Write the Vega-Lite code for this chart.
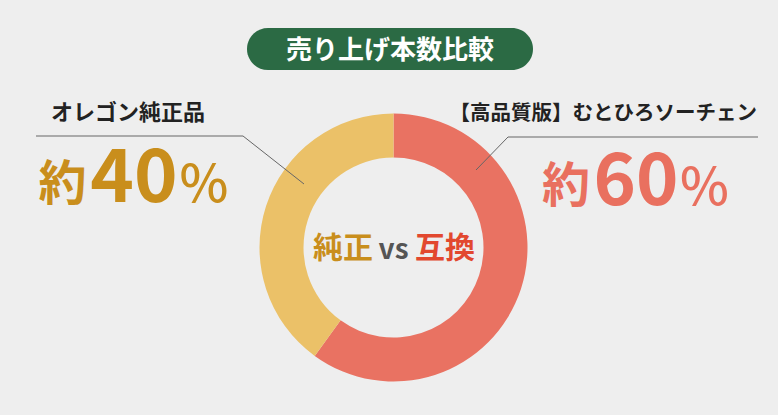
{
  "$schema": "https://vega.github.io/schema/vega-lite/v6.json",
  "width": 778,
  "height": 415,
  "padding": 0,
  "autosize": {"type": "fit", "contains": "padding"},
  "background": "#eeeeee",
  "config": {"view": {"stroke": null}, "text": {"font": "Noto Sans CJK JP"}},
  "datasets": {
    "shares": [
      {"category": "互換", "label": "【高品質版】むとひろソーチェン", "share": 60},
      {"category": "純正", "label": "オレゴン純正品", "share": 40}
    ]
  },
  "data": {"name": "shares"},
  "layer": [
    {
      "mark": {"type": "rect", "color": "#2b6a44", "cornerRadius": 21},
      "encoding": {
        "x": {"datum": 247, "type": "quantitative", "scale": {"domain": [0, 778], "nice": false, "zero": false}, "axis": null},
        "x2": {"datum": 533},
        "y": {"datum": 28, "type": "quantitative", "scale": {"domain": [0, 415], "reverse": true, "nice": false, "zero": false}, "axis": null},
        "y2": {"datum": 70}
      },
      "transform": [{"filter": "datum.share == 60"}]
    },
    {
      "mark": {"type": "text", "text": "売り上げ本数比較", "color": "white", "fontSize": 26, "fontWeight": "bold", "align": "center", "baseline": "alphabetic"},
      "transform": [{"filter": "datum.share == 60"}],
      "encoding": {
        "x": {"datum": 390, "type": "quantitative", "scale": {"domain": [0, 778], "nice": false, "zero": false}, "axis": null},
        "y": {"datum": 58.5, "type": "quantitative", "scale": {"domain": [0, 415], "reverse": true, "nice": false, "zero": false}, "axis": null}
      }
    },
    {
      "mark": {"type": "arc", "innerRadius": 90, "outerRadius": 134},
      "encoding": {
        "theta": {"field": "share", "type": "quantitative", "stack": true},
        "order": {"field": "share", "sort": "descending"},
        "color": {"field": "category", "type": "nominal", "scale": {"domain": ["互換", "純正"], "range": ["#e97262", "#ebc168"]}, "legend": null},
        "x": {"datum": 393.5, "type": "quantitative", "scale": {"domain": [0, 778], "nice": false, "zero": false}, "axis": null},
        "y": {"datum": 247.5, "type": "quantitative", "scale": {"domain": [0, 415], "reverse": true, "nice": false, "zero": false}, "axis": null}
      }
    },
    {
      "mark": {"type": "rule", "color": "#666666", "strokeWidth": 1},
      "transform": [{"filter": "datum.share == 40"}],
      "encoding": {
        "x": {"datum": 36, "type": "quantitative", "scale": {"domain": [0, 778], "nice": false, "zero": false}, "axis": null},
        "x2": {"datum": 243},
        "y": {"datum": 136, "type": "quantitative", "scale": {"domain": [0, 415], "reverse": true, "nice": false, "zero": false}, "axis": null},
        "y2": {"datum": 136}
      }
    },
    {
      "mark": {"type": "rule", "color": "#666666", "strokeWidth": 1},
      "transform": [{"filter": "datum.share == 40"}],
      "encoding": {
        "x": {"datum": 243, "type": "quantitative", "scale": {"domain": [0, 778], "nice": false, "zero": false}, "axis": null},
        "x2": {"datum": 304},
        "y": {"datum": 136, "type": "quantitative", "scale": {"domain": [0, 415], "reverse": true, "nice": false, "zero": false}, "axis": null},
        "y2": {"datum": 184}
      }
    },
    {
      "mark": {"type": "rule", "color": "#666666", "strokeWidth": 1},
      "transform": [{"filter": "datum.share == 60"}],
      "encoding": {
        "x": {"datum": 508, "type": "quantitative", "scale": {"domain": [0, 778], "nice": false, "zero": false}, "axis": null},
        "x2": {"datum": 758},
        "y": {"datum": 137, "type": "quantitative", "scale": {"domain": [0, 415], "reverse": true, "nice": false, "zero": false}, "axis": null},
        "y2": {"datum": 137}
      }
    },
    {
      "mark": {"type": "rule", "color": "#666666", "strokeWidth": 1},
      "transform": [{"filter": "datum.share == 60"}],
      "encoding": {
        "x": {"datum": 508, "type": "quantitative", "scale": {"domain": [0, 778], "nice": false, "zero": false}, "axis": null},
        "x2": {"datum": 476},
        "y": {"datum": 137, "type": "quantitative", "scale": {"domain": [0, 415], "reverse": true, "nice": false, "zero": false}, "axis": null},
        "y2": {"datum": 170}
      }
    },
    {
      "mark": {"type": "text", "color": "#222222", "fontSize": 22, "fontWeight": "bold", "align": "left", "baseline": "alphabetic"},
      "transform": [{"filter": "datum.share == 40"}],
      "encoding": {
        "text": {"field": "label"},
        "x": {"datum": 51, "type": "quantitative", "scale": {"domain": [0, 778], "nice": false, "zero": false}, "axis": null},
        "y": {"datum": 120, "type": "quantitative", "scale": {"domain": [0, 415], "reverse": true, "nice": false, "zero": false}, "axis": null}
      }
    },
    {
      "mark": {"type": "text", "color": "#222222", "fontSize": 20.5, "fontWeight": "bold", "align": "right", "baseline": "alphabetic"},
      "transform": [{"filter": "datum.share == 60"}],
      "encoding": {
        "text": {"field": "label"},
        "x": {"datum": 757, "type": "quantitative", "scale": {"domain": [0, 778], "nice": false, "zero": false}, "axis": null},
        "y": {"datum": 120, "type": "quantitative", "scale": {"domain": [0, 415], "reverse": true, "nice": false, "zero": false}, "axis": null}
      }
    },
    {
      "mark": {"type": "text", "text": "約", "color": "#c98e1c", "fontSize": 48, "fontWeight": "bold", "align": "center", "baseline": "alphabetic"},
      "transform": [{"filter": "datum.share == 40"}],
      "encoding": {
        "x": {"datum": 62.5, "type": "quantitative", "scale": {"domain": [0, 778], "nice": false, "zero": false}, "axis": null},
        "y": {"datum": 200, "type": "quantitative", "scale": {"domain": [0, 415], "reverse": true, "nice": false, "zero": false}, "axis": null}
      }
    },
    {
      "mark": {"type": "text", "color": "#c98e1c", "fontSize": 74, "fontWeight": "bold", "align": "center", "baseline": "alphabetic"},
      "transform": [{"filter": "datum.share == 40"}],
      "encoding": {
        "text": {"field": "share"},
        "x": {"datum": 134, "type": "quantitative", "scale": {"domain": [0, 778], "nice": false, "zero": false}, "axis": null},
        "y": {"datum": 202, "type": "quantitative", "scale": {"domain": [0, 415], "reverse": true, "nice": false, "zero": false}, "axis": null}
      }
    },
    {
      "mark": {"type": "text", "text": "%", "color": "#c98e1c", "fontSize": 52, "fontWeight": 500, "align": "center", "baseline": "alphabetic"},
      "transform": [{"filter": "datum.share == 40"}],
      "encoding": {
        "x": {"datum": 204, "type": "quantitative", "scale": {"domain": [0, 778], "nice": false, "zero": false}, "axis": null},
        "y": {"datum": 202, "type": "quantitative", "scale": {"domain": [0, 415], "reverse": true, "nice": false, "zero": false}, "axis": null}
      }
    },
    {
      "mark": {"type": "text", "text": "約", "color": "#e9705f", "fontSize": 48, "fontWeight": "bold", "align": "center", "baseline": "alphabetic"},
      "transform": [{"filter": "datum.share == 60"}],
      "encoding": {
        "x": {"datum": 566, "type": "quantitative", "scale": {"domain": [0, 778], "nice": false, "zero": false}, "axis": null},
        "y": {"datum": 202, "type": "quantitative", "scale": {"domain": [0, 415], "reverse": true, "nice": false, "zero": false}, "axis": null}
      }
    },
    {
      "mark": {"type": "text", "color": "#e9705f", "fontSize": 72, "fontWeight": "bold", "align": "center", "baseline": "alphabetic"},
      "transform": [{"filter": "datum.share == 60"}],
      "encoding": {
        "text": {"field": "share"},
        "x": {"datum": 636, "type": "quantitative", "scale": {"domain": [0, 778], "nice": false, "zero": false}, "axis": null},
        "y": {"datum": 205, "type": "quantitative", "scale": {"domain": [0, 415], "reverse": true, "nice": false, "zero": false}, "axis": null}
      }
    },
    {
      "mark": {"type": "text", "text": "%", "color": "#e9705f", "fontSize": 52, "fontWeight": 500, "align": "center", "baseline": "alphabetic"},
      "transform": [{"filter": "datum.share == 60"}],
      "encoding": {
        "x": {"datum": 704.5, "type": "quantitative", "scale": {"domain": [0, 778], "nice": false, "zero": false}, "axis": null},
        "y": {"datum": 205, "type": "quantitative", "scale": {"domain": [0, 415], "reverse": true, "nice": false, "zero": false}, "axis": null}
      }
    },
    {
      "mark": {"type": "text", "text": "純正", "color": "#c98e1c", "fontSize": 30, "fontWeight": "bold", "align": "center", "baseline": "alphabetic"},
      "transform": [{"filter": "datum.share == 40"}],
      "encoding": {
        "x": {"datum": 343, "type": "quantitative", "scale": {"domain": [0, 778], "nice": false, "zero": false}, "axis": null},
        "y": {"datum": 258, "type": "quantitative", "scale": {"domain": [0, 415], "reverse": true, "nice": false, "zero": false}, "axis": null}
      }
    },
    {
      "mark": {"type": "text", "text": "vs", "color": "#555555", "fontSize": 28, "fontWeight": "bold", "align": "center", "baseline": "alphabetic"},
      "transform": [{"filter": "datum.share == 40"}],
      "encoding": {
        "x": {"datum": 393.5, "type": "quantitative", "scale": {"domain": [0, 778], "nice": false, "zero": false}, "axis": null},
        "y": {"datum": 259, "type": "quantitative", "scale": {"domain": [0, 415], "reverse": true, "nice": false, "zero": false}, "axis": null}
      }
    },
    {
      "mark": {"type": "text", "text": "互換", "color": "#e2482f", "fontSize": 30, "fontWeight": "bold", "align": "center", "baseline": "alphabetic"},
      "transform": [{"filter": "datum.share == 60"}],
      "encoding": {
        "x": {"datum": 445, "type": "quantitative", "scale": {"domain": [0, 778], "nice": false, "zero": false}, "axis": null},
        "y": {"datum": 258, "type": "quantitative", "scale": {"domain": [0, 415], "reverse": true, "nice": false, "zero": false}, "axis": null}
      }
    }
  ]
}
